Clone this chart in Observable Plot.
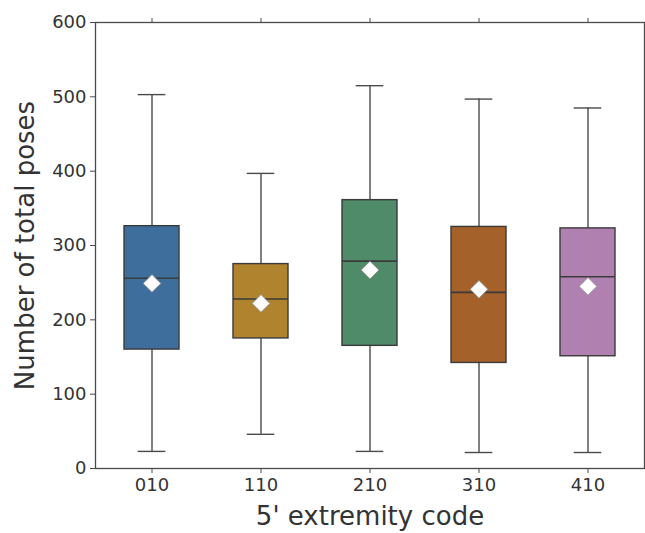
<!DOCTYPE html>
<html><head><meta charset="utf-8">
<script src="https://cdn.jsdelivr.net/npm/d3@7"></script>
<script src="https://cdn.jsdelivr.net/npm/@observablehq/plot@0.6"></script>
<style>body{margin:0;background:#fff} svg{display:block}</style>
</head><body><div id="chart"></div>
<script>
const categories = ["010", "110", "210", "310", "410"];
const whiskerLow = [23, 46, 23, 21.5, 21.5];
const q1 = [160, 175, 165, 142, 151];
const median = [256, 228, 279, 237, 258];
const q3 = [326, 275, 361, 325, 323];
const whiskerHigh = [503, 397, 515, 497, 485];
const means = [249, 222, 267, 241, 245];
const colors = ["#3e6e9c", "#b0842e", "#4f8a69", "#a5612a", "#b080b0"];
const yTicks = [0, 100, 200, 300, 400, 500, 600];
const xLabel = "5' extremity code";
const yLabel = "Number of total poses";

const data = categories.map((c, i) => ({
  code: c, lo: whiskerLow[i], q1: q1[i], med: median[i], q3: q3[i], hi: whiskerHigh[i], mean: means[i]
}));

const ink = "#333333";
const lineC = "#4a4a4a";

const chart = Plot.plot({
  width: 645,
  height: 533,
  marginLeft: 95,
  marginRight: 1,
  marginTop: 22,
  marginBottom: 65,
  style: {fontFamily: "DejaVu Sans", color: ink, background: "#fff"},
  x: {domain: categories, paddingInner: 0.5, paddingOuter: 0.25},
  y: {domain: [0, 600]},
  color: {domain: categories, range: colors},
  marks: [
    Plot.ruleX(data, {x: "code", y1: "lo", y2: "q1", stroke: lineC, strokeWidth: 1.4}),
    Plot.ruleX(data, {x: "code", y1: "q3", y2: "hi", stroke: lineC, strokeWidth: 1.4}),
    Plot.tickY(data, {x: "code", y: "lo", stroke: lineC, strokeWidth: 1.4, insetLeft: 13.7, insetRight: 13.7}),
    Plot.tickY(data, {x: "code", y: "hi", stroke: lineC, strokeWidth: 1.4, insetLeft: 13.7, insetRight: 13.7}),
    Plot.barY(data, {x: "code", y1: "q1", y2: "q3", fill: "code", stroke: "#3a3a3a", strokeWidth: 1.4}),
    Plot.tickY(data, {x: "code", y: "med", stroke: "#3a3a3a", strokeWidth: 1.6}),
    Plot.dot(data, {x: "code", y: "mean", symbol: "diamond2", r: 8, fill: "white", stroke: "#888", strokeWidth: 0.8}),
    Plot.frame({stroke: lineC, strokeWidth: 1.3}),
    Plot.axisY(yTicks, {anchor: "left", tickSize: 5, tickPadding: 4, fontSize: 18, stroke: lineC, label: null}),
    Plot.axisY(yTicks, {anchor: "right", tickSize: 5, tickFormat: () => "", stroke: lineC, label: null}),
    Plot.axisX({anchor: "bottom", tickSize: 5, tickPadding: 5, fontSize: 18, stroke: lineC, label: null}),
    Plot.axisX({anchor: "top", tickSize: 5, tickFormat: () => "", stroke: lineC, label: null}),
    Plot.text([yLabel], {frameAnchor: "left", dx: -70, rotate: -90, fontSize: 26, fill: ink, textAnchor: "middle", lineAnchor: "middle"}),
    Plot.text([xLabel], {frameAnchor: "bottom", dy: 56, fontSize: 26, fill: ink, textAnchor: "middle", lineAnchor: "bottom"})
  ]
});
document.getElementById("chart").appendChild(chart);
</script>
</body></html>
